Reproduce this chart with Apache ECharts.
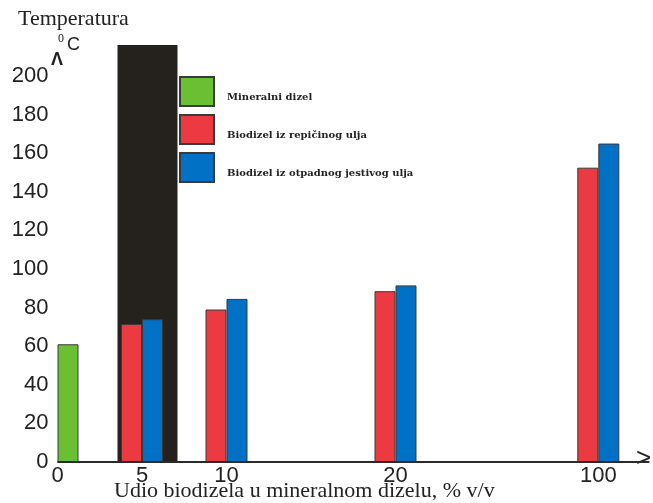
<!DOCTYPE html>
<html>
<head>
<meta charset="utf-8">
<script src="https://cdn.jsdelivr.net/npm/echarts@6/dist/echarts.min.js"></script>
<style>html,body{margin:0;padding:0;background:#fff}#c{width:653px;height:503px}</style>
</head>
<body>
<div id="c"></div>
<script>
// ---- data ----
const xValues = [0, 5, 10, 20, 100];            // % biodiesel in mineral diesel
const seriesNames = ['Mineralni dizel', 'Biodizel iz repičinog ulja', 'Biodizel iz otpadnog jestivog ulja'];
const mineralni = [61, null, null, null, null];
const repicino = [null, 71.5, 79, 88.5, 152.5];
const otpadno = [null, 74, 84.5, 91.5, 165];
const xTickLabels = [0, 5, 10, 20, 100];
const yTicks = [0, 20, 40, 60, 80, 100, 120, 140, 160, 180, 200];

function pairs(vals) {
  return xValues.map((x, i) => [x, vals[i] == null ? '-' : vals[i]]);
}

const colors = ['#6abf32', '#eb3a41', '#0071c5'];
const border = { borderColor: '#3a3a3a', borderWidth: 1 };

const chart = echarts.init(document.getElementById('c'), null, { renderer: 'canvas' });
chart.setOption({
  animation: false,
  grid: { left: 57.5, right: 4, top: 37.4, bottom: 41, containLabel: false },
  legend: {
    orient: 'vertical', left: 179, top: 76, padding: 0,
    itemWidth: 34, itemHeight: 29, itemGap: 7, icon: 'rect',
    data: seriesNames,
    formatter: name => '{t|' + name + '}',
    textStyle: {
      color: '#222',
      rich: { t: { fontFamily: 'DejaVu Serif', fontWeight: 'bold', fontSize: 10, color: '#222', padding: [12, 0, 0, 8] } }
    }
  },
  xAxis: {
    type: 'value', min: 0, max: 103,
    breaks: [{ start: 25, end: 95, gap: 2 }],
    breakArea: { show: false },
    splitLine: { show: false },
    axisTick: { show: false },
    axisLine: { show: true, onZero: false, lineStyle: { color: '#333', width: 1.5 } },
    axisLabel: { customValues: xTickLabels, margin: 3, color: '#222', fontFamily: 'Liberation Sans', fontSize: 22 }
  },
  yAxis: {
    type: 'value', min: 0, max: 220, interval: 20,
    splitLine: { show: false },
    axisTick: { show: false },
    axisLine: { show: false },
    axisLabel: {
      margin: 9, color: '#222', fontFamily: 'Liberation Sans', fontSize: 22,
      formatter: v => (yTicks.indexOf(v) >= 0 ? String(v) : '')
    }
  },
  series: [
    {
      name: seriesNames[1], type: 'bar', barWidth: 21, barGap: '0%',
      itemStyle: Object.assign({ color: colors[1] }, border),
      data: pairs(repicino),
      markArea: {
        silent: true,
        itemStyle: { color: '#25221e', opacity: 1 },
        data: [[{ coord: [3.55, 0] }, { coord: [7.1, 216] }]]
      },
      markLine: {
        silent: true, symbol: 'none', label: { show: false },
        lineStyle: { color: '#2a2a2a', width: 2, type: 'solid' },
        data: [{ yAxis: 0 }]
      }
    },
    {
      name: seriesNames[0], type: 'bar', stack: 'right', barWidth: 21, barGap: '0%',
      itemStyle: Object.assign({ color: colors[0] }, border),
      data: pairs(mineralni)
    },
    {
      name: seriesNames[2], type: 'bar', stack: 'right', barWidth: 21, barGap: '0%',
      itemStyle: Object.assign({ color: colors[2] }, border),
      data: pairs(otpadno)
    }
  ],
  graphic: [
    { type: 'text', left: 18, top: 8, style: { text: 'Temperatura', font: '22px "Liberation Serif"', fill: '#222' } },
    { type: 'text', left: 58, top: 33, style: { text: '0', font: '12px "Liberation Serif"', fill: '#222' } },
    { type: 'text', left: 67, top: 36, style: { text: 'C', font: '18px "Liberation Sans"', fill: '#222' } },
    { type: 'text', left: 51, top: 51, style: { text: 'Λ', font: 'bold 18px "Liberation Sans"', fill: '#222' } },
    { type: 'text', left: 636, top: 446, style: { text: '>', font: '26px "Liberation Sans"', fill: '#222' } },
    { type: 'text', left: 114, top: 480, style: { text: 'Udio biodizela u mineralnom dizelu, % v/v', font: '22px "Liberation Serif"', fill: '#222' } }
  ]
});
</script>
</body>
</html>
